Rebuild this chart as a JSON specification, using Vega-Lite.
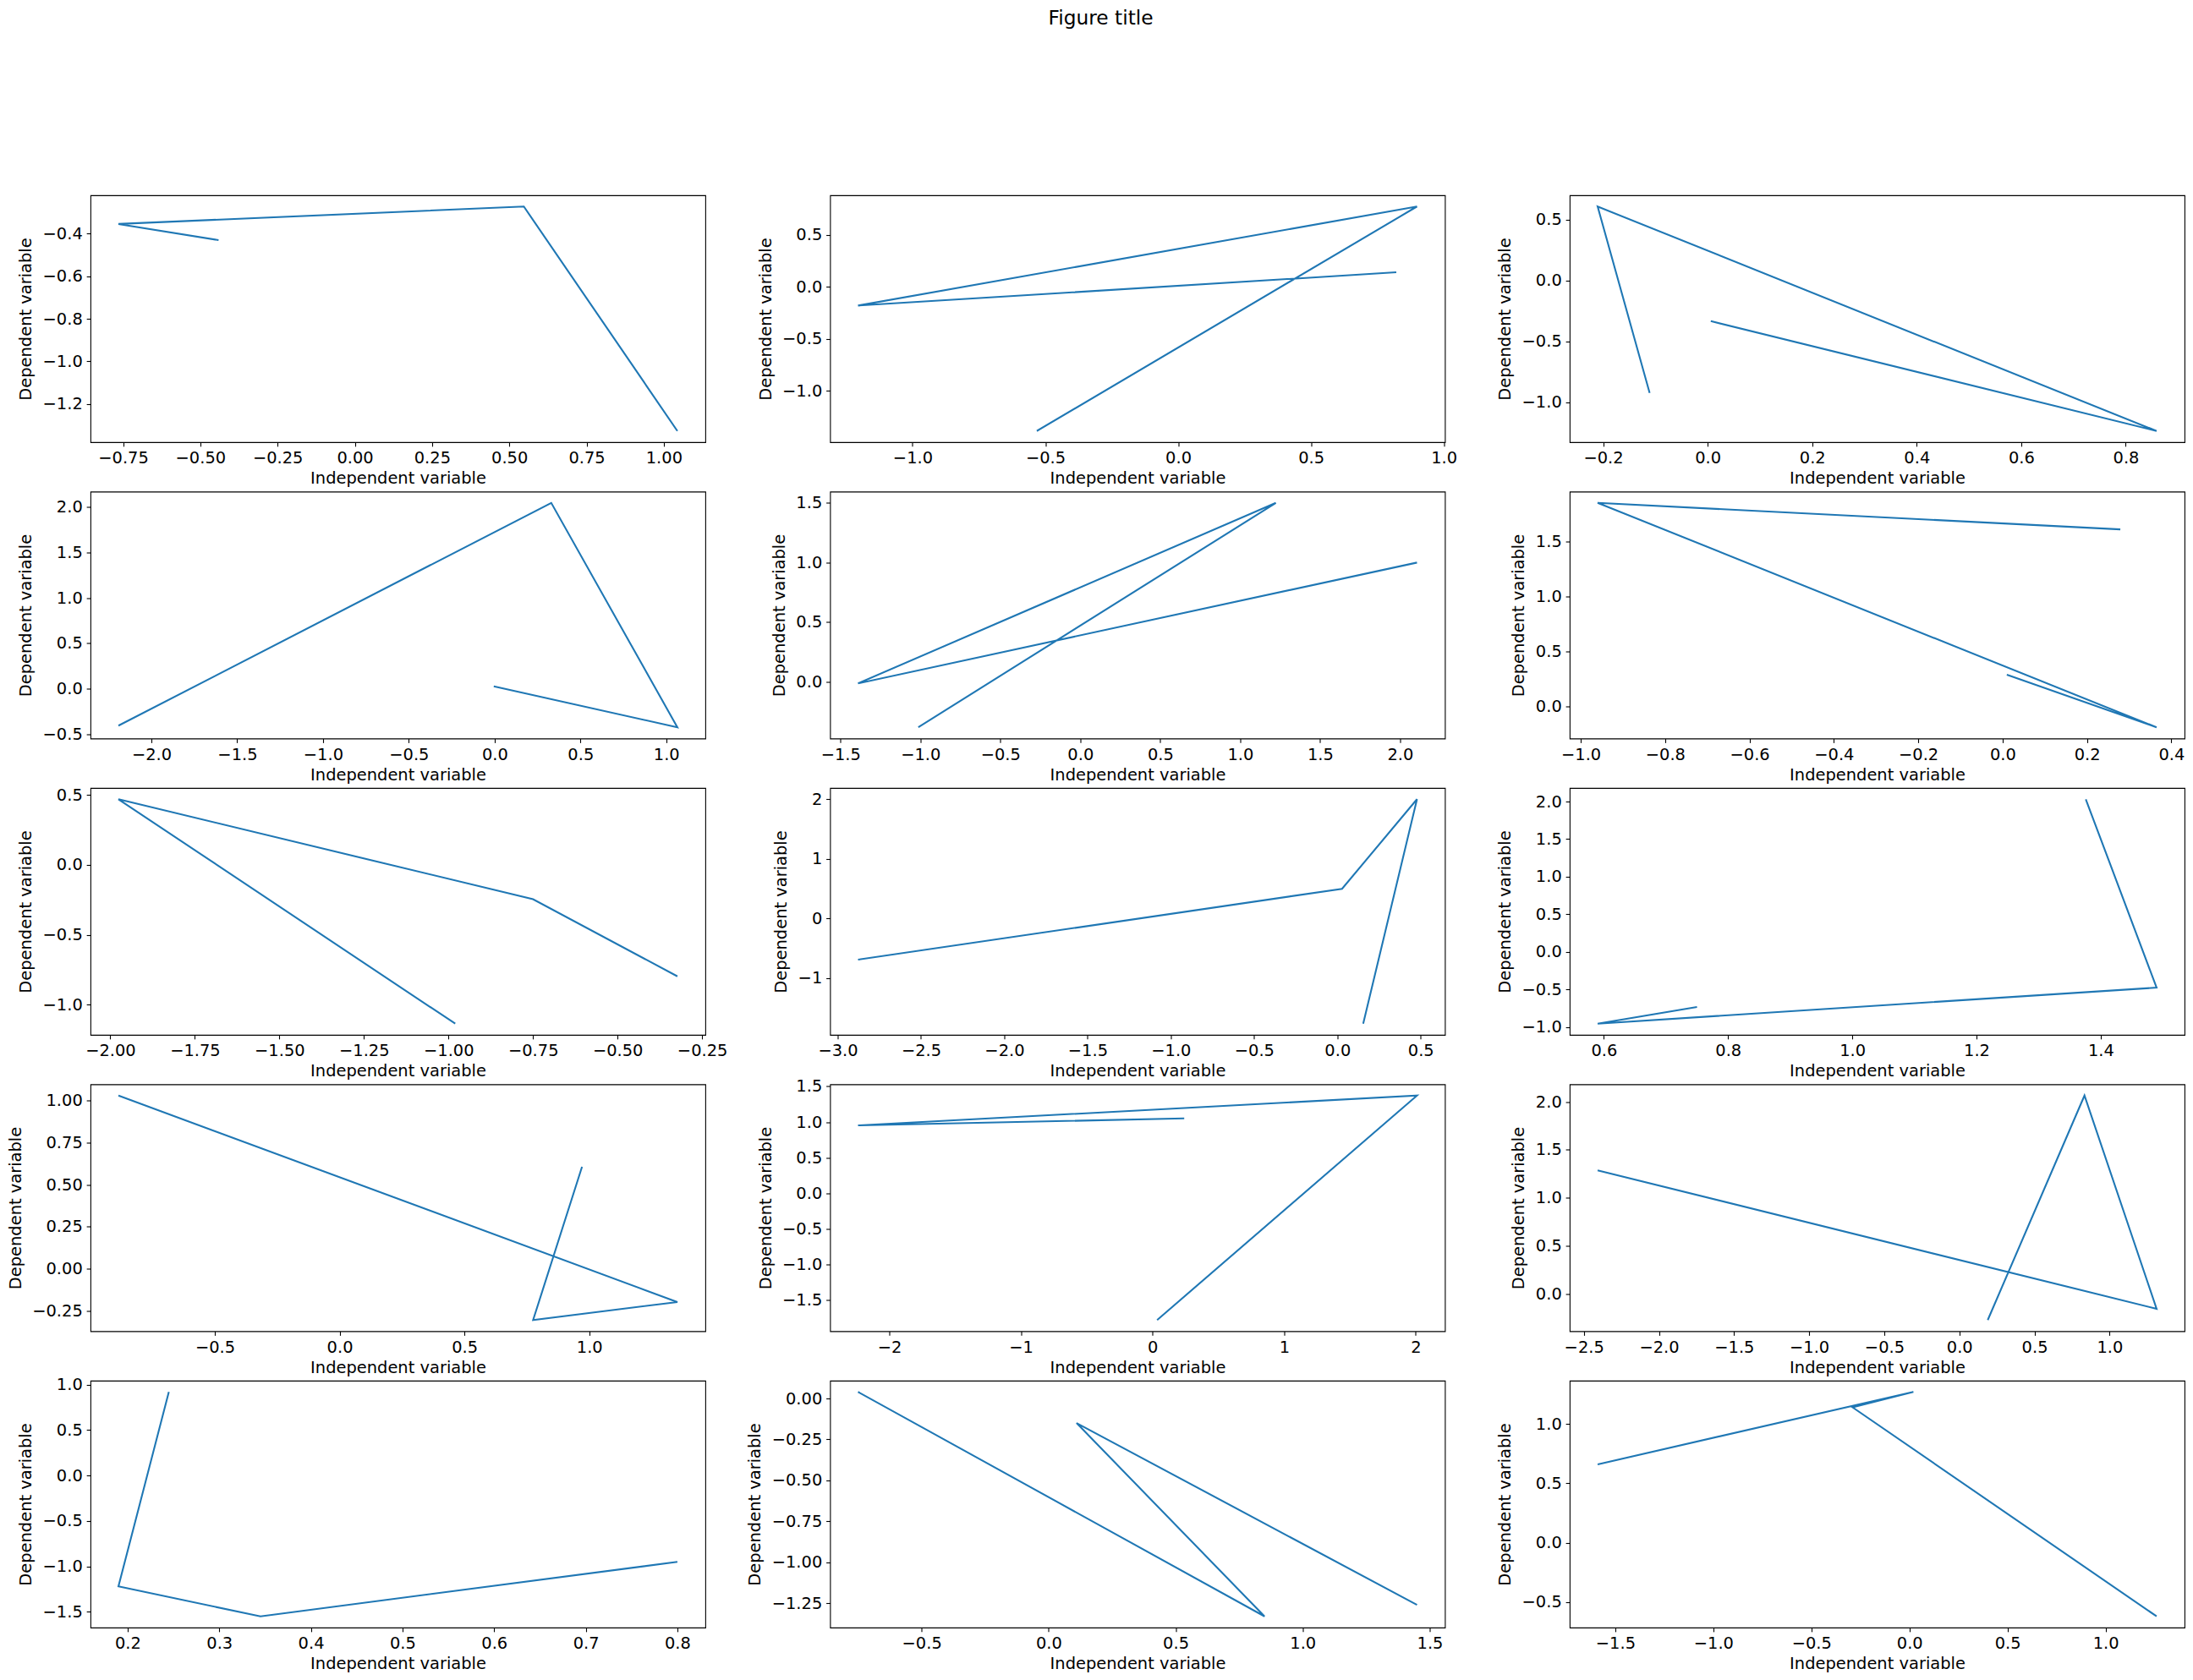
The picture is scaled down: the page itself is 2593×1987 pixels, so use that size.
{
  "$schema": "https://vega.github.io/schema/vega-lite/v6.json",
  "background": "white",
  "padding": {"left": 7, "top": 10, "right": 10, "bottom": 10},
  "title": {"text": "Figure title", "fontSize": 23.3, "font": "DejaVu Sans", "fontWeight": "normal", "color": "black", "anchor": "middle", "offset": 196, "dx": 6},
  "datasets": {
    "p1": [{"i":1,"x":-0.441,"y":-0.430},{"i":2,"x":-0.765,"y":-0.354},{"i":3,"x":0.547,"y":-0.272},{"i":4,"x":1.044,"y":-1.327}],
    "p2": [{"i":1,"x":0.821,"y":0.138},{"i":2,"x":-1.205,"y":-0.181},{"i":3,"x":0.899,"y":0.770},{"i":4,"x":-0.532,"y":-1.386}],
    "p3": [{"i":1,"x":-0.111,"y":-0.924},{"i":2,"x":-0.2105,"y":0.609},{"i":3,"x":0.859,"y":-1.236},{"i":4,"x":0.006,"y":-0.333}],
    "p4": [{"i":1,"x":-0.005,"y":0.028},{"i":2,"x":1.065,"y":-0.423},{"i":3,"x":0.330,"y":2.046},{"i":4,"x":-2.192,"y":-0.405}],
    "p5": [{"i":1,"x":2.106,"y":1.000},{"i":2,"x":-1.390,"y":-0.012},{"i":3,"x":1.223,"y":1.500},{"i":4,"x":-1.013,"y":-0.380}],
    "p6": [{"i":1,"x":0.010,"y":0.292},{"i":2,"x":0.365,"y":-0.187},{"i":3,"x":-0.960,"y":1.853},{"i":4,"x":0.279,"y":1.612}],
    "p7": [{"i":1,"x":-0.980,"y":-1.137},{"i":2,"x":-1.976,"y":0.470},{"i":3,"x":-0.750,"y":-0.246},{"i":4,"x":-0.323,"y":-0.798}],
    "p8": [{"i":1,"x":0.155,"y":-1.766},{"i":2,"x":0.478,"y":1.997},{"i":3,"x":0.028,"y":0.495},{"i":4,"x":-2.878,"y":-0.692}],
    "p9": [{"i":1,"x":1.376,"y":2.031},{"i":2,"x":1.490,"y":-0.475},{"i":3,"x":0.590,"y":-0.954},{"i":4,"x":0.750,"y":-0.733}],
    "p10": [{"i":1,"x":0.971,"y":0.606},{"i":2,"x":0.775,"y":-0.304},{"i":3,"x":1.353,"y":-0.197},{"i":4,"x":-0.886,"y":1.029}],
    "p11": [{"i":1,"x":0.241,"y":1.051},{"i":2,"x":-2.238,"y":0.953},{"i":3,"x":2.010,"y":1.372},{"i":4,"x":0.035,"y":-1.779}],
    "p12": [{"i":1,"x":0.189,"y":-0.269},{"i":2,"x":0.833,"y":2.064},{"i":3,"x":1.313,"y":-0.152},{"i":4,"x":-2.408,"y":1.286}],
    "p13": [{"i":1,"x":0.245,"y":0.92},{"i":2,"x":0.19,"y":-1.22},{"i":3,"x":0.345,"y":-1.55},{"i":4,"x":0.80,"y":-0.95}],
    "p14": [{"i":1,"x":-0.75,"y":0.04},{"i":2,"x":0.85,"y":-1.33},{"i":3,"x":0.11,"y":-0.15},{"i":4,"x":1.45,"y":-1.26}],
    "p15": [{"i":1,"x":-1.59,"y":0.66},{"i":2,"x":0.02,"y":1.27},{"i":3,"x":-0.29,"y":1.14},{"i":4,"x":1.26,"y":-0.62}]
  },
  "columns": 3,
  "spacing": {"row": 58.5, "column": 147.5},
  "bounds": "flush",
  "concat": [
    {"width": 727, "height": 292, "data": {"name": "p1"}, "mark": "line", "encoding": {
      "x": {"field": "x", "type": "quantitative", "scale": {"zero": false, "nice": false, "padding": 33.05}, "axis": {"title": "Independent variable", "values": [-0.75,-0.5,-0.25,0,0.25,0.5,0.75,1.0], "format": ".2f"}},
      "y": {"field": "y", "type": "quantitative", "scale": {"zero": false, "nice": false, "padding": 13.27}, "axis": {"title": "Dependent variable", "values": [-1.2,-1.0,-0.8,-0.6,-0.4], "format": ".1f"}},
      "order": {"field": "i", "type": "quantitative"}}},
    {"width": 727, "height": 292, "data": {"name": "p2"}, "mark": "line", "encoding": {
      "x": {"field": "x", "type": "quantitative", "scale": {"zero": false, "nice": false, "padding": 33.05}, "axis": {"title": "Independent variable", "values": [-1.0,-0.5,0,0.5,1.0], "format": ".1f"}},
      "y": {"field": "y", "type": "quantitative", "scale": {"zero": false, "nice": false, "padding": 13.27}, "axis": {"title": "Dependent variable", "values": [-1.0,-0.5,0,0.5], "format": ".1f"}},
      "order": {"field": "i", "type": "quantitative"}}},
    {"width": 727, "height": 292, "data": {"name": "p3"}, "mark": "line", "encoding": {
      "x": {"field": "x", "type": "quantitative", "scale": {"zero": false, "nice": false, "padding": 33.05}, "axis": {"title": "Independent variable", "values": [-0.2,0,0.2,0.4,0.6,0.8], "format": ".1f"}},
      "y": {"field": "y", "type": "quantitative", "scale": {"zero": false, "nice": false, "padding": 13.27}, "axis": {"title": "Dependent variable", "values": [-1.0,-0.5,0,0.5], "format": ".1f"}},
      "order": {"field": "i", "type": "quantitative"}}},
    {"width": 727, "height": 292, "data": {"name": "p4"}, "mark": "line", "encoding": {
      "x": {"field": "x", "type": "quantitative", "scale": {"zero": false, "nice": false, "padding": 33.05}, "axis": {"title": "Independent variable", "values": [-2.0,-1.5,-1.0,-0.5,0,0.5,1.0], "format": ".1f"}},
      "y": {"field": "y", "type": "quantitative", "scale": {"zero": false, "nice": false, "padding": 13.27}, "axis": {"title": "Dependent variable", "values": [-0.5,0,0.5,1.0,1.5,2.0], "format": ".1f"}},
      "order": {"field": "i", "type": "quantitative"}}},
    {"width": 727, "height": 292, "data": {"name": "p5"}, "mark": "line", "encoding": {
      "x": {"field": "x", "type": "quantitative", "scale": {"zero": false, "nice": false, "padding": 33.05}, "axis": {"title": "Independent variable", "values": [-1.5,-1.0,-0.5,0,0.5,1.0,1.5,2.0], "format": ".1f"}},
      "y": {"field": "y", "type": "quantitative", "scale": {"zero": false, "nice": false, "padding": 13.27}, "axis": {"title": "Dependent variable", "values": [0,0.5,1.0,1.5], "format": ".1f"}},
      "order": {"field": "i", "type": "quantitative"}}},
    {"width": 727, "height": 292, "data": {"name": "p6"}, "mark": "line", "encoding": {
      "x": {"field": "x", "type": "quantitative", "scale": {"zero": false, "nice": false, "padding": 33.05}, "axis": {"title": "Independent variable", "values": [-1.0,-0.8,-0.6,-0.4,-0.2,0,0.2,0.4], "format": ".1f"}},
      "y": {"field": "y", "type": "quantitative", "scale": {"zero": false, "nice": false, "padding": 13.27}, "axis": {"title": "Dependent variable", "values": [0,0.5,1.0,1.5], "format": ".1f"}},
      "order": {"field": "i", "type": "quantitative"}}},
    {"width": 727, "height": 292, "data": {"name": "p7"}, "mark": "line", "encoding": {
      "x": {"field": "x", "type": "quantitative", "scale": {"zero": false, "nice": false, "padding": 33.05}, "axis": {"title": "Independent variable", "values": [-2.0,-1.75,-1.5,-1.25,-1.0,-0.75,-0.5,-0.25], "format": ".2f"}},
      "y": {"field": "y", "type": "quantitative", "scale": {"zero": false, "nice": false, "padding": 13.27}, "axis": {"title": "Dependent variable", "values": [-1.0,-0.5,0,0.5], "format": ".1f"}},
      "order": {"field": "i", "type": "quantitative"}}},
    {"width": 727, "height": 292, "data": {"name": "p8"}, "mark": "line", "encoding": {
      "x": {"field": "x", "type": "quantitative", "scale": {"zero": false, "nice": false, "padding": 33.05}, "axis": {"title": "Independent variable", "values": [-3.0,-2.5,-2.0,-1.5,-1.0,-0.5,0,0.5], "format": ".1f"}},
      "y": {"field": "y", "type": "quantitative", "scale": {"zero": false, "nice": false, "padding": 13.27}, "axis": {"title": "Dependent variable", "values": [-1,0,1,2], "format": "d"}},
      "order": {"field": "i", "type": "quantitative"}}},
    {"width": 727, "height": 292, "data": {"name": "p9"}, "mark": "line", "encoding": {
      "x": {"field": "x", "type": "quantitative", "scale": {"zero": false, "nice": false, "padding": 33.05}, "axis": {"title": "Independent variable", "values": [0.6,0.8,1.0,1.2,1.4], "format": ".1f"}},
      "y": {"field": "y", "type": "quantitative", "scale": {"zero": false, "nice": false, "padding": 13.27}, "axis": {"title": "Dependent variable", "values": [-1.0,-0.5,0,0.5,1.0,1.5,2.0], "format": ".1f"}},
      "order": {"field": "i", "type": "quantitative"}}},
    {"width": 727, "height": 292, "data": {"name": "p10"}, "mark": "line", "encoding": {
      "x": {"field": "x", "type": "quantitative", "scale": {"zero": false, "nice": false, "padding": 33.05}, "axis": {"title": "Independent variable", "values": [-0.5,0,0.5,1.0], "format": ".1f"}},
      "y": {"field": "y", "type": "quantitative", "scale": {"zero": false, "nice": false, "padding": 13.27}, "axis": {"title": "Dependent variable", "values": [-0.25,0,0.25,0.5,0.75,1.0], "format": ".2f"}},
      "order": {"field": "i", "type": "quantitative"}}},
    {"width": 727, "height": 292, "data": {"name": "p11"}, "mark": "line", "encoding": {
      "x": {"field": "x", "type": "quantitative", "scale": {"zero": false, "nice": false, "padding": 33.05}, "axis": {"title": "Independent variable", "values": [-2,-1,0,1,2], "format": "d"}},
      "y": {"field": "y", "type": "quantitative", "scale": {"zero": false, "nice": false, "padding": 13.27}, "axis": {"title": "Dependent variable", "values": [-1.5,-1.0,-0.5,0,0.5,1.0,1.5], "format": ".1f"}},
      "order": {"field": "i", "type": "quantitative"}}},
    {"width": 727, "height": 292, "data": {"name": "p12"}, "mark": "line", "encoding": {
      "x": {"field": "x", "type": "quantitative", "scale": {"zero": false, "nice": false, "padding": 33.05}, "axis": {"title": "Independent variable", "values": [-2.5,-2.0,-1.5,-1.0,-0.5,0,0.5,1.0], "format": ".1f"}},
      "y": {"field": "y", "type": "quantitative", "scale": {"zero": false, "nice": false, "padding": 13.27}, "axis": {"title": "Dependent variable", "values": [0,0.5,1.0,1.5,2.0], "format": ".1f"}},
      "order": {"field": "i", "type": "quantitative"}}},
    {"width": 727, "height": 292, "data": {"name": "p13"}, "mark": "line", "encoding": {
      "x": {"field": "x", "type": "quantitative", "scale": {"zero": false, "nice": false, "padding": 33.05}, "axis": {"title": "Independent variable", "values": [0.2,0.3,0.4,0.5,0.6,0.7,0.8], "format": ".1f"}},
      "y": {"field": "y", "type": "quantitative", "scale": {"zero": false, "nice": false, "padding": 13.27}, "axis": {"title": "Dependent variable", "values": [-1.5,-1.0,-0.5,0,0.5,1.0], "format": ".1f"}},
      "order": {"field": "i", "type": "quantitative"}}},
    {"width": 727, "height": 292, "data": {"name": "p14"}, "mark": "line", "encoding": {
      "x": {"field": "x", "type": "quantitative", "scale": {"zero": false, "nice": false, "padding": 33.05}, "axis": {"title": "Independent variable", "values": [-0.5,0,0.5,1.0,1.5], "format": ".1f"}},
      "y": {"field": "y", "type": "quantitative", "scale": {"zero": false, "nice": false, "padding": 13.27}, "axis": {"title": "Dependent variable", "values": [-1.25,-1.0,-0.75,-0.5,-0.25,0], "format": ".2f"}},
      "order": {"field": "i", "type": "quantitative"}}},
    {"width": 727, "height": 292, "data": {"name": "p15"}, "mark": "line", "encoding": {
      "x": {"field": "x", "type": "quantitative", "scale": {"zero": false, "nice": false, "padding": 33.05}, "axis": {"title": "Independent variable", "values": [-1.5,-1.0,-0.5,0,0.5,1.0], "format": ".1f"}},
      "y": {"field": "y", "type": "quantitative", "scale": {"zero": false, "nice": false, "padding": 13.27}, "axis": {"title": "Dependent variable", "values": [-0.5,0,0.5,1.0], "format": ".1f"}},
      "order": {"field": "i", "type": "quantitative"}}}
  ],
  "config": {
    "view": {"stroke": "black", "strokeWidth": 1.11},
    "line": {"color": "#1f77b4", "strokeWidth": 2.08},
    "axis": {
      "domain": false, "grid": false,
      "labelFont": "DejaVu Sans", "labelFontSize": 19.44, "labelColor": "black",
      "labelPadding": 4.86, "labelFlush": false, "labelOverlap": false, "labelBound": false,
      "tickColor": "black", "tickSize": 4.86, "tickWidth": 1.11,
      "titleFont": "DejaVu Sans", "titleFontSize": 19.44, "titleFontWeight": "normal", "titleColor": "black"
    },
    "axisX": {"titlePadding": 5.56},
    "axisY": {"titlePadding": 9.5}
  }
}
